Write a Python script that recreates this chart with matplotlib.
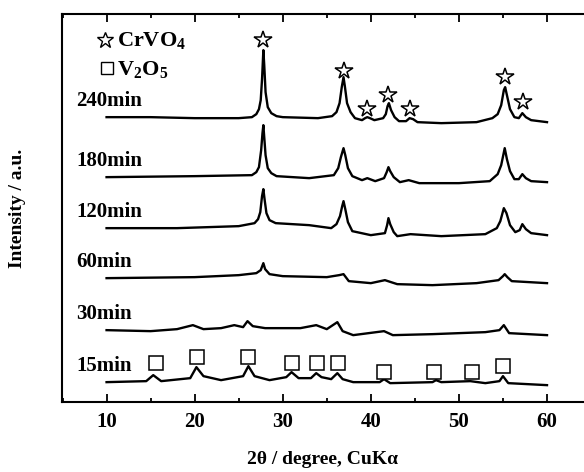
import matplotlib
matplotlib.use('Agg')
import matplotlib.pyplot as plt
from matplotlib.ticker import MultipleLocator

plt.rcParams['font.family'] = ['Liberation Serif', 'DejaVu Serif']
plt.rcParams['font.weight'] = 'bold'
plt.rcParams['mathtext.fontset'] = 'custom'
plt.rcParams['mathtext.rm'] = 'Liberation Serif:bold'
plt.rcParams['mathtext.bf'] = 'Liberation Serif:bold'
plt.rcParams['mathtext.it'] = 'Liberation Serif:bold'

# XRD traces: 2theta and intensity above each trace baseline (a.u.)
labels = ['240min', '180min', '120min', '60min', '30min', '15min']
offsets = [285, 225, 174, 124, 72, 20]

tt_240 = [10, 15, 20, 25, 26.5, 27.0, 27.3, 27.5, 27.65, 27.8, 27.9, 28.05, 28.3, 28.7, 29.3,
          30, 34, 35.6, 36.1, 36.45, 36.7, 36.9, 37.05, 37.3, 37.7, 38.2, 39.0, 39.35, 39.6,
          39.9, 40.4, 41.4, 41.7, 41.9, 42.05, 42.3, 42.7, 43.2, 44.0, 44.4, 44.8, 45.3, 48,
          52, 53.8, 54.4, 54.8, 55.1, 55.25, 55.45, 55.8, 56.3, 56.8, 57.2, 57.6, 58.2, 60]
i_240 = [0, 0, -1, -1, 0, 3, 8, 17, 38, 67, 52, 25, 10, 4, 1,
         0, -1, 1, 5, 14, 30, 40, 31, 14, 5, -1, -3, -1, 0,
         -1, -3, -1, 3, 11, 14, 7, 0, -4, -4, -1, -2, -5, -6,
         -5, -1, 3, 12, 27, 30, 22, 8, 0, -1, 4, 0, -3, -5]

tt_180 = [10, 20, 26.5, 27.0, 27.3, 27.55, 27.7, 27.8, 27.9, 28.05, 28.3, 28.7, 29.3, 33,
          35.8, 36.3, 36.6, 36.9, 37.1, 37.4, 37.9, 39.0, 39.6, 40.5, 41.5, 41.8, 42.0,
          42.2, 42.6, 43.3, 44.3, 45.5, 50, 53.5, 54.4, 54.8, 55.2, 55.45, 55.8, 56.3,
          56.8, 57.2, 57.6, 58.2, 60]
i_180 = [0, 1, 2, 5, 10, 27, 44, 52, 40, 22, 9, 4, 1, -1,
         2, 9, 20, 29, 22, 9, 1, -3, -1, -4, -1, 5, 10,
         6, 0, -5, -3, -6, -6, -4, 3, 12, 29, 18, 6, -2,
         -2, 3, -1, -4, -5]

tt_120 = [10, 18, 25, 26.8, 27.2, 27.45, 27.65, 27.8, 27.95, 28.15, 28.5, 29.2, 33, 35.5,
          36.1, 36.5, 36.75, 36.9, 37.1, 37.4, 37.9, 40, 41.6, 41.85, 42.0, 42.2, 42.6, 43,
          44.5, 48, 53, 54.3, 54.7, 55.1, 55.4, 55.8, 56.4, 56.9, 57.2, 57.6, 58.2, 60]
i_120 = [0, 0, 2, 5, 9, 16, 32, 39, 28, 15, 8, 5, 3, 0,
         4, 12, 22, 27, 19, 6, -3, -7, -5, 3, 10, 4, -4, -8,
         -6, -8, -6, 0, 7, 20, 15, 3, -4, -2, 4, -1, -5, -7]

tt_60 = [10, 20, 25, 27.0, 27.5, 27.8, 28.0, 28.5, 30, 35, 36.4, 36.9, 37.5, 40, 41.6,
         43, 47, 52, 54.5, 55.0, 55.2, 55.5, 56.0, 60]
i_60 = [0, 1, 3, 5, 8, 15, 9, 4, 2, 1, 3, 4, -3, -5, -2,
        -6, -7, -5, -2, 2, 4, 1, -3, -5]

tt_30 = [10, 15, 18, 19.8, 21, 23, 24.5, 25.5, 26.0, 26.6, 28, 32, 33.8, 35, 36.2, 36.8,
         38, 41.5, 42.5, 47, 53, 54.6, 55.1, 55.7, 60]
i_30 = [0, -1, 1, 5, 1, 2, 5, 3, 9, 4, 2, 2, 5, 1, 8, -1,
        -5, -1, -5, -4, -2, 0, 5, -3, -5]

tt_15 = [10, 14.5, 15.3, 16.2, 19.5, 20.2, 21, 23, 25.5, 26.1, 26.8, 28.5, 30.4, 31.0,
         31.8, 33.2, 33.8, 34.4, 35.5, 36.2, 36.8, 38, 41, 41.5, 42.2, 47.0, 47.4, 48,
         51.3, 53, 54.6, 55.0, 55.6, 60]
i_15 = [0, 1, 7, 1, 4, 15, 6, 2, 6, 16, 6, 2, 5, 10,
        4, 4, 9, 5, 3, 9, 3, 0, 0, 3, -1, 0, 2, 0,
        1, -1, 1, 6, -1, -3]

traces = [(tt_240, i_240), (tt_180, i_180), (tt_120, i_120),
          (tt_60, i_60), (tt_30, i_30), (tt_15, i_15)]

# phase markers
star_tt = [27.8, 36.9, 39.6, 42.0, 44.4, 55.2, 57.3]
star_y = [362, 331, 293, 307, 293, 325, 300]
square_tt = [15.6, 20.3, 26.1, 31.1, 33.9, 36.3, 41.5, 47.2, 51.5, 55.0]
square_y = [39, 45, 45, 39, 39, 39, 30, 30, 30, 36]

fig = plt.figure(figsize=(5.84, 4.72), dpi=100)
ax = fig.add_axes([0.106, 0.148, 0.894, 0.822])

for (tt, inten), off, lab in zip(traces, offsets, labels):
    ax.plot(tt, [v + off for v in inten], color='black', linewidth=1.7,
            solid_joinstyle='round')
    ax.text(6.6, off + 16, lab, fontsize=15, fontweight='bold', va='center', ha='left')

ax.plot(star_tt, star_y, linestyle='none', marker='*', markersize=13,
        markerfacecolor='white', markeredgecolor='black', markeredgewidth=1.1)
ax.plot(square_tt, square_y, linestyle='none', marker='s', markersize=9.5,
        markerfacecolor='white', markeredgecolor='black', markeredgewidth=1.1)

# legend drawn by hand like the original
ax.plot([9.8], [362], linestyle='none', marker='*', markersize=12,
        markerfacecolor='white', markeredgecolor='black', markeredgewidth=1.0)
ax.plot([10.0], [334], linestyle='none', marker='s', markersize=9,
        markerfacecolor='white', markeredgecolor='black', markeredgewidth=1.0)
ax.text(11.2, 362, r'CrVO$_4$', fontsize=16, fontweight='bold', va='center', ha='left')
ax.text(11.2, 333, r'V$_2$O$_5$', fontsize=16, fontweight='bold', va='center', ha='left')

ax.set_xlim(4.93, 64.2)
ax.set_ylim(0, 388)
ax.xaxis.set_major_locator(MultipleLocator(10))
ax.xaxis.set_minor_locator(MultipleLocator(5))
ax.set_yticks([])
ax.tick_params(axis='x', which='both', direction='in', top=True, bottom=True, width=1.3)
ax.tick_params(axis='x', which='major', length=5.5, labelsize=15, pad=7)
ax.tick_params(axis='x', which='minor', length=3)
for lab in ax.get_xticklabels():
    lab.set_fontweight('bold')
for side in ['left', 'top', 'bottom']:
    ax.spines[side].set_linewidth(1.5)
ax.spines['right'].set_visible(False)

ax.set_xlabel('2θ / degree, CuKα', fontsize=14, fontweight='bold', labelpad=14)
ax.set_ylabel('Intensity / a.u.', fontsize=14, fontweight='bold', labelpad=26)

fig.savefig('out.png', dpi=100)
